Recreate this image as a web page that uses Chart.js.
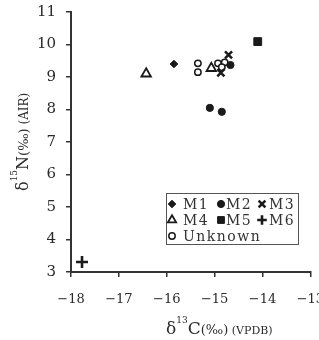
<!DOCTYPE html>
<html lang="en">
<head>
    <meta charset="UTF-8">
    <title>d13C vs d15N</title>
    <script src="https://cdn.jsdelivr.net/npm/chart.js"></script>
    <style>
        html, body { margin: 0; padding: 0; background: #fff; }
        #wrap { width: 319px; height: 340px; }
    </style>
</head>
<body>
    <div id="wrap"><canvas id="isoChart" width="319" height="340"></canvas></div>

    <script>
        // values: [d13C, d15N]
        const m1 = [[-15.85, 9.4]];
        const m2 = [[-15.1, 8.05], [-14.85, 7.93], [-14.67, 9.37]];
        const m3 = [[-14.71, 9.68], [-14.87, 9.13]];
        const m4 = [[-16.43, 9.1], [-15.07, 9.27]];
        const m5 = [[-14.1, 10.09]];
        const m6 = [[-17.77, 3.31]];
        const unknown = [[-15.35, 9.42], [-15.35, 9.15], [-14.93, 9.42], [-14.79, 9.45], [-14.85, 9.3]];

        const xTicks = [-18, -17, -16, -15, -14, -13];
        const yTicks = [3, 4, 5, 6, 7, 8, 9, 10, 11];

        const toXY = arr => arr.map(p => ({ x: p[0], y: p[1] }));
        const serif = 'DejaVu Serif';
        const ink = '#1a1a1a';

        const datasets = [
            { label: 'M1', data: toXY(m1), pointStyle: 'rectRot', pointRadius: 3.8, backgroundColor: ink, borderColor: ink, borderWidth: 1 },
            { label: 'M2', data: toXY(m2), pointStyle: 'circle', pointRadius: 3.6, backgroundColor: ink, borderColor: ink, borderWidth: 1 },
            { label: 'M3', data: toXY(m3), pointStyle: 'crossRot', pointRadius: 5, backgroundColor: ink, borderColor: ink, borderWidth: 2.5 },
            { label: 'M4', data: toXY(m4), pointStyle: 'triangle', pointRadius: 5.5, backgroundColor: '#fff', borderColor: ink, borderWidth: 1.8 },
            { label: 'M5', data: toXY(m5), pointStyle: 'rect', pointRadius: 5.5, backgroundColor: ink, borderColor: ink, borderWidth: 1 },
            { label: 'M6', data: toXY(m6), pointStyle: 'cross', pointRadius: 6, backgroundColor: ink, borderColor: ink, borderWidth: 2.6 },
            { label: 'Unknown', data: toXY(unknown), pointStyle: 'circle', pointRadius: 3.2, backgroundColor: '#fff', borderColor: ink, borderWidth: 1.5 }
        ];

        // legend box inside the plot + axis titles with superscripts
        const extras = {
            id: 'extras',
            afterDraw(chart) {
                const ctx = chart.ctx;
                ctx.save();

                // legend
                ctx.strokeStyle = '#555';
                ctx.lineWidth = 1;
                ctx.strokeRect(166.5, 193.5, 132, 51);
                const cols = [172, 221, 262];
                const txt = [183, 226, 269];
                const rows = [204, 220, 236];
                ctx.font = '14px ' + serif;
                ctx.textBaseline = 'middle';
                ctx.textAlign = 'left';
                ctx.letterSpacing = '1.5px';
                chart.data.datasets.forEach((ds, i) => {
                    const r = Math.floor(i / 3), c = i % 3;
                    const px = cols[c], py = rows[r];
                    ctx.fillStyle = ds.backgroundColor;
                    ctx.strokeStyle = ds.borderColor;
                    ctx.lineWidth = ds.borderWidth;
                    Chart.helpers.drawPoint(ctx, {
                        pointStyle: ds.pointStyle,
                        radius: Math.min(ds.pointRadius, 4.8),
                        rotation: 0,
                        borderWidth: ds.borderWidth
                    }, px, py);
                    ctx.fillStyle = '#333';
                    ctx.fillText(ds.label, txt[c], py + 1);
                });
                ctx.letterSpacing = '0px';

                // x title
                const xParts = [
                    { t: 'δ', f: '17px ' + serif, dy: 0 },
                    { t: '13', f: '9px ' + serif, dy: -11 },
                    { t: 'C', f: '17px ' + serif, dy: 0 },
                    { t: '(‰)', f: '13px ' + serif, dy: 0 },
                    { t: ' (VPDB)', f: '11px ' + serif, dy: 0 }
                ];
                drawParts(ctx, xParts, 166, 334);

                // y title, rotated
                ctx.translate(28, 191);
                ctx.rotate(-Math.PI / 2);
                const yParts = [
                    { t: 'δ', f: '16px ' + serif, dy: 0 },
                    { t: '15', f: '9px ' + serif, dy: -11 },
                    { t: 'N', f: '16px ' + serif, dy: 0 },
                    { t: '(‰)', f: '13px ' + serif, dy: 0 },
                    { t: ' (AIR)', f: '12px ' + serif, dy: 0 }
                ];
                drawParts(ctx, yParts, 0, 0);
                ctx.restore();
            }
        };

        function drawParts(ctx, parts, x, y) {
            ctx.fillStyle = '#2a2a2a';
            ctx.textAlign = 'left';
            ctx.textBaseline = 'alphabetic';
            let cx = x;
            parts.forEach(p => {
                ctx.font = p.f;
                ctx.fillText(p.t, cx, y + p.dy);
                cx += ctx.measureText(p.t).width;
            });
        }

        const axisColor = '#333';

        new Chart(document.getElementById('isoChart'), {
            type: 'scatter',
            data: { datasets },
            options: {
                responsive: false,
                animation: false,
                events: [],
                layout: { padding: { left: 0, top: 12, right: 8, bottom: 0 } },
                plugins: {
                    legend: { display: false },
                    tooltip: { enabled: false }
                },
                scales: {
                    x: {
                        type: 'linear',
                        min: xTicks[0],
                        max: xTicks[xTicks.length - 1],
                        afterBuildTicks: s => { s.ticks = xTicks.map(v => ({ value: v })); },
                        afterFit: s => { s.height = 68; s.paddingLeft = 0; s.paddingRight = 0; },
                        border: { color: axisColor, width: 2 },
                        grid: { drawOnChartArea: false, drawTicks: true, tickLength: 5, color: axisColor, lineWidth: 1.5 },
                        ticks: {
                            padding: 15,
                            color: '#2a2a2a',
                            font: { family: serif, size: 13 },
                            callback: v => (v < 0 ? '\u2212' : '') + Math.abs(v)
                        }
                    },
                    y: {
                        type: 'linear',
                        min: yTicks[0],
                        max: yTicks[yTicks.length - 1],
                        afterBuildTicks: s => { s.ticks = yTicks.map(v => ({ value: v })); },
                        afterFit: s => { s.width = 71; s.paddingTop = 0; s.paddingBottom = 0; },
                        border: { color: axisColor, width: 2 },
                        grid: { drawOnChartArea: false, drawTicks: true, tickLength: 5, color: axisColor, lineWidth: 1.5 },
                        ticks: {
                            padding: 10,
                            color: '#2a2a2a',
                            font: { family: serif, size: 15 }
                        }
                    }
                }
            },
            plugins: [extras]
        });
    </script>
</body>
</html>
